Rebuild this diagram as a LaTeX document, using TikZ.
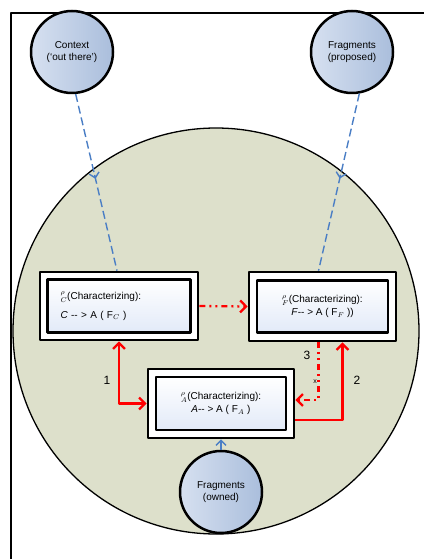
\documentclass[tikz,border=0pt]{standalone}
\usepackage{fontspec}
\setmainfont{Liberation Sans}
\usetikzlibrary{calc}
\usetikzlibrary{positioning}
\usetikzlibrary{arrows.meta}

\definecolor{ground}{RGB}{221,224,203}
\definecolor{bubblelight}{RGB}{214,224,240}
\definecolor{bubbledark}{RGB}{170,190,220}
\definecolor{feed}{RGB}{74,126,197}
\definecolor{cardblue}{RGB}{226,234,248}

\begin{document}
\begin{tikzpicture}[x=1pt, y=-1pt, line join=round,
  font=\fontsize{10}{12}\selectfont,
  bubble/.style={circle, draw=black, line width=2.5pt, minimum size=82pt, inner sep=0pt,
    align=center, left color=bubblelight, right color=bubbledark},
  frame/.style={rectangle, draw=black, line width=2.6pt, fill=white},
  card/.style={rectangle, draw=black, line width=2.6pt, top color=white,
    bottom color=cardblue, align=center, inner sep=0pt},
  feedline/.style={feed, line width=1.4pt, dash pattern=on 8pt off 4pt},
  feedtip/.tip={Straight Barb[length=5pt,width=10pt,line width=1.4pt,sharp]},
  link/.style={red, line width=2.3pt},
  dots/.style={dash pattern=on 6pt off 4pt on 2pt off 4pt on 2pt off 4pt},
  linktip/.tip={Straight Barb[length=6pt,width=12pt]},
  num/.style={font=\fontsize{12}{14}\selectfont}]
  \useasboundingbox (0,0) rectangle (423,559);
  % outer frame, only top and left edges show
  \draw[line width=1.5pt] (11,13) rectangle (450,600);
  % shared ground
  \draw[fill=ground, line width=1.3pt] (216,331) circle[radius=203];

  % sources
  \node[bubble] (ctx) at (72,52) {Context\\(`out there')};
  \node[bubble] (fprop) at (352,52) {Fragments\\(proposed)};
  \node[bubble] (fown) at (221,492) {Fragments\\(owned)};

  % characterizing boxes, double frame
  \node[frame, minimum width=158pt, minimum height=68pt] (C) at (119,306) {};
  \node[card, minimum width=143pt, minimum height=53pt, text width=117pt, align=left] (Ci) at (C)
    {$^{\rho}_{C}$(Characterizing):\\[7pt] \textit{C} -{}- > A ( F$_{C}$ )};
  \node[frame, minimum width=147pt, minimum height=69pt] (F) at (322.5,306.5) {};
  \node[card, minimum width=131pt, minimum height=52pt] (Fi) at (F)
    {$^{\rho}_{F}$(Characterizing):\\[1pt] \textit{F}-{}- > A ( F$_{F}$ ))};
  \node[frame, minimum width=146pt, minimum height=69pt] (A) at (221,403.5) {};
  \node[card, minimum width=130pt, minimum height=53pt] (Ai) at (A)
    {$^{\rho}_{A}$(Characterizing):\\[1pt] \textit{A}-{}- > A ( F$_{A}$ )};

  % inputs, solid tip halfway down where the ground starts
  \coordinate (cmid) at ($(ctx.-85)!0.48!([xshift=-2pt]C.north)$);
  \coordinate (fmid) at ($(fprop.-80)!0.48!([xshift=-4pt]F.north)$);
  \draw[feedline] (ctx.-85) -- ([xshift=-2pt]C.north);
  \draw[feed, line width=1.4pt, -feedtip] ($(cmid)!4pt!(ctx.-85)$) -- (cmid);
  \draw[feedline] (fprop.-80) -- ([xshift=-4pt]F.north);
  \draw[feed, line width=1.4pt, -feedtip] ($(fmid)!4pt!(fprop.-80)$) -- (fmid);
  \draw[feed, line width=1.4pt, -feedtip] (fown) -- (A.south);

  % links between boxes
  \draw[link, dots, -linktip] (C.east) -- (F.west);
  \draw[link, linktip-linktip] (C.south) |- (A.west);
  \draw[link, -linktip] ($(A.east)+(0,16.5)$) -| ($(F.south)+(20,0)$);
  \draw[link, dots, -linktip] ($(F.south)+(-4,0)$) |- ($(A.east)+(0,-3.5)$);

  \node[num] (n1) at (107,380) {1};
  \node[num] (n2) at (357,380) {2};
  \node[num] (n3) at (307,355) {3};
  \node[font=\scriptsize] (nx) at (315,382) {x};
\end{tikzpicture}
\end{document}
